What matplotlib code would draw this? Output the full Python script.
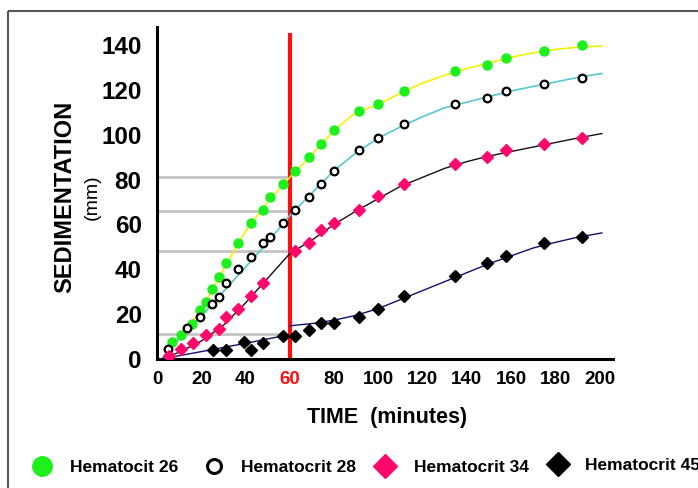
import matplotlib

matplotlib.use("Agg")
import matplotlib.pyplot as plt
from matplotlib.patches import Rectangle

plt.rcParams["font.family"] = ["Liberation Sans", "DejaVu Sans"]

# Measured points (time in minutes, sedimentation in mm)
hem26_t = [6.9, 10.7, 16.0, 19.3, 22.3, 25.0, 27.8, 31.1, 36.5, 42.5, 48.1, 51.1, 56.7,
           62.4, 68.5, 74.1, 79.8, 91.1, 99.8, 111.6, 134.4, 148.9, 157.5, 174.7, 192.0]
hem26_mm = [7.7, 10.7, 15.5, 21.8, 25.6, 31.2, 36.4, 42.6, 51.7, 60.5, 66.2, 72.1, 78.1,
            83.8, 90.0, 95.7, 102.0, 110.6, 113.6, 119.4, 128.2, 131.2, 134.2, 137.3, 140.1]

hem28_t = [5.1, 13.7, 19.5, 25.0, 28.1, 31.1, 36.5, 42.5, 48.1, 51.1, 56.7, 62.4,
           68.5, 74.1, 79.8, 91.1, 99.8, 111.6, 134.4, 148.9, 157.5, 174.7, 192.0]
hem28_mm = [4.3, 13.6, 18.9, 24.7, 27.7, 33.8, 39.9, 45.6, 51.6, 54.6, 60.5, 66.2,
            72.1, 78.1, 83.8, 93.0, 98.7, 104.7, 113.6, 116.4, 119.4, 122.5, 125.4]

hem34_t = [5.4, 10.7, 16.4, 22.3, 28.1, 31.1, 36.8, 42.5, 48.1, 62.4, 68.5, 74.1,
           79.8, 91.1, 99.8, 111.6, 134.4, 148.9, 157.5, 174.7, 192.0]
hem34_mm = [1.3, 4.3, 7.3, 10.7, 13.3, 18.9, 22.2, 27.9, 33.8, 48.3, 51.7, 57.5,
            60.5, 66.5, 72.5, 78.1, 87.1, 90.0, 93.0, 96.0, 98.7]

hem45_t = [25.3, 31.1, 39.5, 42.5, 48.1, 56.7, 62.4, 68.5, 74.1, 79.8, 91.1, 99.8,
           111.6, 134.4, 148.9, 157.5, 174.7, 192.0]
hem45_mm = [3.9, 3.9, 7.6, 3.9, 7.3, 10.3, 10.3, 13.0, 16.2, 15.9, 18.9, 22.2,
            27.9, 36.8, 42.8, 45.8, 51.7, 54.6]

# Trend lines
trend_t = [2, 10, 20, 30, 40, 50, 60, 70, 80, 90, 100, 110, 120, 130, 140, 150, 160,
           170, 180, 190, 201]
hem26_trend = [0, 9, 22, 40, 57, 70, 81, 91, 102, 110, 113.5, 118.5, 123, 126.5, 129.5,
               132, 134.5, 136.5, 138, 139, 139.5]
hem28_trend = [0, 9.5, 19, 30, 41, 52, 64, 74, 84, 92, 98.5, 103.5, 108, 112, 114.5,
               117, 119.5, 121.5, 123.5, 125.5, 127.3]
hem34_trend = [0, 3, 8, 15, 25, 36, 47, 53, 60, 66, 71.5, 77, 81, 85, 88, 90.5, 92.5,
               94.5, 96.5, 98.5, 100.5]
hem45_early_t = [2, 20, 40, 59]
hem45_early = [0, 3.3, 7, 10.7]
hem45_late_t = [60, 70, 80, 90, 100, 110, 120, 130, 140, 150, 160, 170, 180, 190, 201]
hem45_late = [14.8, 15.8, 17.3, 19.5, 22.5, 26.5, 30.5, 34.5, 38.5, 42.5, 46, 49.5, 52,
              54.3, 56.2]

marker_time = 60
ref_levels = [81, 66, 48, 11]
x_ticks = [0, 20, 40, 60, 80, 100, 120, 140, 160, 180, 200]
y_ticks = [0, 20, 40, 60, 80, 100, 120, 140]

legend_labels = ["Hematocit 26", "Hematocrit 28", "Hematocrit 34", "Hematocrit 45"]

GREEN = "#1ef01e"
PINK = "#ff0a6c"

fig = plt.figure(figsize=(6.98, 4.88), dpi=100)
ax = fig.add_axes([157 / 698, 129 / 488, 456 / 698, 332 / 488])

# Reference lines at 60 minutes
for level in ref_levels:
    ax.plot([0, marker_time], [level, level], color="#c4c4c4", lw=2, zorder=1)
ax.plot([marker_time, marker_time], [0, 144.5], color="#ff1010", lw=3, zorder=2)

# Trend lines
ax.plot(trend_t, hem26_trend, color="#f2f200", lw=1.2, zorder=3)
ax.plot(trend_t, hem28_trend, color="#55c8d0", lw=1.2, zorder=3)
ax.plot(trend_t, hem34_trend, color="#111111", lw=1.0, zorder=3)
ax.plot(hem45_early_t, hem45_early, color="#101070", lw=1.0, zorder=3)
ax.plot(hem45_late_t, hem45_late, color="#101070", lw=1.0, zorder=3)

# Measured points
ax.plot(hem26_t, hem26_mm, "o", color=GREEN, ms=6.5, mec=GREEN, zorder=4)
ax.plot(hem28_t, hem28_mm, "o", mfc="white", mec="black", ms=5.5, mew=1.6, zorder=4)
ax.plot(hem34_t, hem34_mm, "D", color=PINK, ms=6.3, zorder=4)
ax.plot(hem45_t, hem45_mm, "D", color="black", ms=6.3, zorder=4)

ax.set_xlim(0, 206)
ax.set_ylim(0, 148)
ax.set_xticks(x_ticks)
ax.set_yticks(y_ticks)
ax.set_xticklabels([str(v) for v in x_ticks], fontsize=13.5, fontweight="bold")
ax.set_yticklabels([str(v) for v in y_ticks], fontsize=17.5, fontweight="bold")
ax.get_xticklabels()[x_ticks.index(marker_time)].set_color("#ff1010")
ax.tick_params(axis="both", length=0)
ax.tick_params(axis="x", pad=9)
ax.tick_params(axis="y", pad=11)
for side in ["top", "right"]:
    ax.spines[side].set_visible(False)
for side in ["left", "bottom"]:
    ax.spines[side].set_linewidth(2.2)
ax.patch.set_alpha(0)

# Overlay in pixel units for titles, legend and border
ov = fig.add_axes([0, 0, 1, 1], zorder=-1)
ov.set_xlim(0, 698)
ov.set_ylim(488, 0)
ov.axis("off")
ov.add_patch(Rectangle((8, 11), 720, 500, fill=False, ec="#555555", lw=1.5))

ov.text(65, 197, "SEDIMENTATION", rotation=90, ha="center", va="center",
        fontsize=17, fontweight="bold")
ov.text(92, 197, "(mm)", rotation=90, ha="center", va="center", fontsize=14)
ov.text(387, 418, "TIME  (minutes)", ha="center", va="center",
        fontsize=15.5, fontweight="bold")

ov.plot(42, 466, "o", color=GREEN, ms=14)
ov.plot(214, 466, "o", mfc="white", mec="black", ms=10, mew=2.2)
ov.plot(385, 466, "D", color=PINK, ms=12)
ov.plot(558, 464, "D", color="black", ms=12)
for x, y, label in zip([70, 241, 414, 585], [468, 468, 468, 465], legend_labels):
    ov.text(x, y, label, ha="left", va="center", fontsize=12.5, fontweight="bold")

fig.savefig("out.png", dpi=100)
